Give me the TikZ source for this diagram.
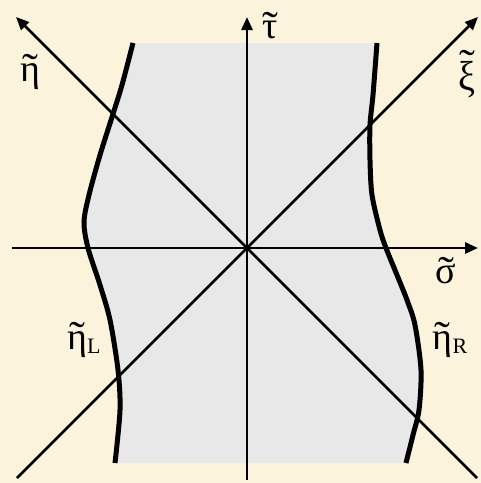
\documentclass[tikz,border=0pt]{standalone}
\usepackage{fontspec}
\setmainfont{Liberation Serif}
\usetikzlibrary{arrows.meta}
\definecolor{parch}{RGB}{252,243,221}
\definecolor{stripgray}{RGB}{232,232,232}
\newcommand\tl[2][-0.04em]{\leavevmode\setbox0\hbox{#2}\rlap{\hbox to \wd0{\hss\raisebox{#1}{\scalebox{1.25}[1.1]{˜}}\hss}}\box0}
\begin{document}
\begin{tikzpicture}[x=1pt,y=-1pt,
  axis/.style={line width=2.7pt,-{Triangle[length=13pt,width=11pt]}},
  bound/.style={line width=5pt},
  lab/.style={font=\fontsize{38}{38}\selectfont, inner sep=0pt}]
\useasboundingbox (0,0) rectangle (481,483);
\fill[parch] (0,0) rectangle (481,483);
% shaded strip
\fill[stripgray] plot[smooth] coordinates {(133,43) (122,85) (113,114) (100,155) (89,195) (84,222) (88,248) (100,285) (110,320) (118,370) (120,410) (115,463)}
  -- plot[smooth] coordinates {(406,463) (413,435) (419,410) (421,370) (415,325) (407,300) (397,275) (386,248) (380,230) (372,195) (370,160) (370,125) (373,95) (377,43)} -- cycle;
% coordinates
\coordinate (O) at (247,248);
\coordinate (tauS) at (247,480);
\coordinate (tauE) at (247,17);
\coordinate (sigS) at (12,248);
\coordinate (sigE) at (478,248);
\coordinate (etaS) at (477,478);
\coordinate (etaE) at (16,17);
\coordinate (xiS) at (17,478);
\coordinate (xiE) at (478,17);
% axes
\draw[axis] (tauS) -- (tauE);
\draw[axis] (sigS) -- (sigE);
\draw[axis,line width=2.5pt] (etaS) -- (etaE);
\draw[axis,line width=2.5pt] (xiS) -- (xiE);
% boundaries
\draw[bound] plot[smooth] coordinates {(133,43) (122,85) (113,114) (100,155) (89,195) (84,222) (88,248) (100,285) (110,320) (118,370) (120,410) (115,463)};
\draw[bound] plot[smooth] coordinates {(377,43) (373,95) (370,125) (370,160) (372,195) (380,230) (386,248) (397,275) (407,300) (415,325) (421,370) (419,410) (413,435) (406,463)};
% labels
\node[lab] (leta) at (30,72) {\tl{η}};
\node[lab] (lxi) at (467,74) {\tl[0.3em]{\scalebox{1}[1.1]{ξ}}};
\node[lab] (ltau) at (270,26) {\tl{τ}};
\node[lab] (lsig) at (446,271) {\tl{σ}};
\node[lab] (letaL) at (84,340) {\tl{η}\raisebox{-0.12em}{\fontsize{22}{22}\selectfont L}};
\node[lab] (letaR) at (450,340) {\tl{η}\raisebox{-0.12em}{\fontsize{22}{22}\selectfont R}};
\end{tikzpicture}
\end{document}
